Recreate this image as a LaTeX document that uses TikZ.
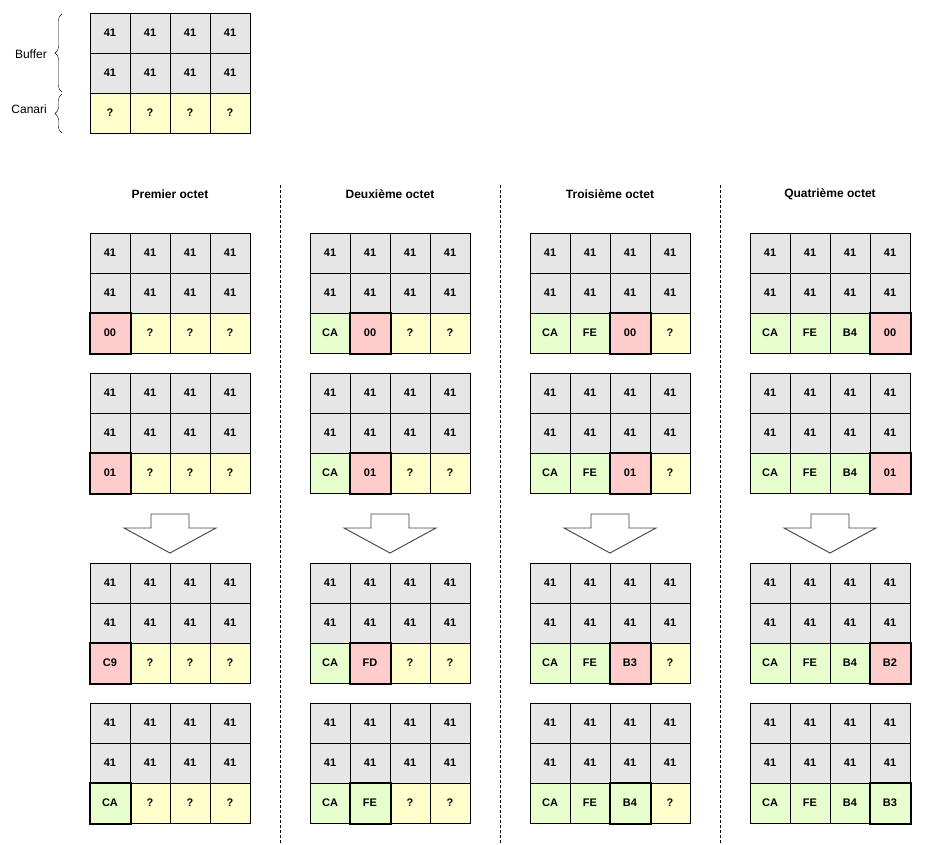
\documentclass[tikz,border=0pt]{standalone}
\usepackage{fontspec}
\setmainfont{Liberation Sans}
\usetikzlibrary{decorations.pathreplacing}
\definecolor{buf}{HTML}{E6E6E6}
\definecolor{can}{HTML}{FFFFCC}
\definecolor{bad}{HTML}{FFCCCC}
\definecolor{good}{HTML}{E6FFCC}
\newcommand{\memgrid}[4]{%
  \foreach \r in {0,1}
    \foreach \c in {0,...,3}
      \node[octet,fill=buf] (#1-\r-\c) at ({#2+20+40*\c},{#3+20+40*\r}) {41};
  \foreach \fc/\tx [count=\c from 0] in {#4}
    \node[octet,fill=\fc] (#1-2-\c) at ({#2+20+40*\c},{#3+100}) {\tx};
}
\newcommand{\marque}[1]{\draw[line width=2pt] (#1.north west) rectangle (#1.south east);}

\begin{document}
\begin{tikzpicture}[x=1pt,y=-1pt,
    octet/.style={draw,line width=1pt,minimum size=40pt,inner sep=0pt,
      font=\fontsize{11}{13}\selectfont\bfseries},
    titre/.style={font=\fontsize{12}{14}\selectfont\bfseries},
    side/.style={anchor=east,inner sep=0pt,font=\fontsize{12}{14}\selectfont},
    fleche/.style={draw=black!75,fill=white,line width=0.9pt,line join=miter},
    sep/.style={line width=1pt,dash pattern=on 3pt off 2pt}]
    \useasboundingbox (0,0) rectangle (948,844);
    \memgrid{top}{90}{13}{can/?,can/?,can/?,can/?}
    \node[side] (lbuf) at (47,54) {Buffer};
    \node[side] (lcan) at (47,109) {Canari};
    \draw[decorate,decoration={brace,amplitude=7pt}] (62,92) -- (62,14);
    \draw[decorate,decoration={brace,amplitude=7pt}] (62,133) -- (62,94);
    \foreach \x in {280,500,720}
      \draw[sep] (\x,185) -- (\x,844);
    \node[titre] (t1) at (170,194) {Premier octet};
    \node[titre] (t2) at (390,194) {Deuxième octet};
    \node[titre] (t3) at (610,194) {Troisième octet};
    \node[titre] (t4) at (830,194) {Quatrième octet};
    \memgrid{pa}{90}{233}{bad/00,can/?,can/?,can/?} \marque{pa-2-0}
    \memgrid{pb}{90}{373}{bad/01,can/?,can/?,can/?} \marque{pb-2-0}
    \memgrid{pc}{90}{563}{bad/C9,can/?,can/?,can/?} \marque{pc-2-0}
    \memgrid{pd}{90}{703}{good/CA,can/?,can/?,can/?} \marque{pd-2-0}
    \memgrid{da}{310}{233}{good/CA,bad/00,can/?,can/?} \marque{da-2-1}
    \memgrid{db}{310}{373}{good/CA,bad/01,can/?,can/?} \marque{db-2-1}
    \memgrid{dc}{310}{563}{good/CA,bad/FD,can/?,can/?} \marque{dc-2-1}
    \memgrid{dd}{310}{703}{good/CA,good/FE,can/?,can/?} \marque{dd-2-1}
    \memgrid{ta}{530}{233}{good/CA,good/FE,bad/00,can/?} \marque{ta-2-2}
    \memgrid{tb}{530}{373}{good/CA,good/FE,bad/01,can/?} \marque{tb-2-2}
    \memgrid{tc}{530}{563}{good/CA,good/FE,bad/B3,can/?} \marque{tc-2-2}
    \memgrid{td}{530}{703}{good/CA,good/FE,good/B4,can/?} \marque{td-2-2}
    \memgrid{qa}{750}{233}{good/CA,good/FE,good/B4,bad/00} \marque{qa-2-3}
    \memgrid{qb}{750}{373}{good/CA,good/FE,good/B4,bad/01} \marque{qb-2-3}
    \memgrid{qc}{750}{563}{good/CA,good/FE,good/B4,bad/B2} \marque{qc-2-3}
    \memgrid{qd}{750}{703}{good/CA,good/FE,good/B4,good/B3} \marque{qd-2-3}
    \foreach \cx in {170,390,610,830}
      \draw[fleche] ({\cx-46},528) -- ({\cx-19},528) -- ({\cx-19},514) -- ({\cx+19},514)
        -- ({\cx+19},528) -- ({\cx+46},528) -- (\cx,553) -- cycle;
  \end{tikzpicture}
\end{document}
